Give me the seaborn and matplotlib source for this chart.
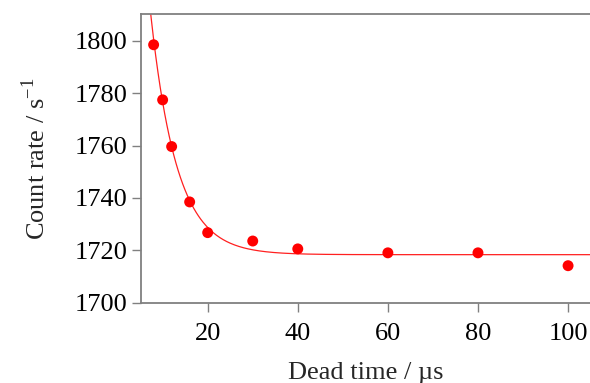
import numpy as np
import pandas as pd
import matplotlib
matplotlib.use("Agg")
import matplotlib.pyplot as plt
import seaborn as sns

# Data
dead_time = [8, 10, 12, 16, 20, 30, 40, 60, 80, 100]
count_rate = [1798.4, 1777.4, 1759.6, 1738.5, 1726.8, 1723.6, 1720.6, 1719.1, 1719.1, 1714.2]

# Exponential fit parameters: y = A + B*exp(-x/tau)
fit_A = 1718.4
fit_B = 326.0
fit_tau = 5.8

x_ticks = [20, 40, 60, 80, 100]
y_ticks = [1700, 1720, 1740, 1760, 1780, 1800]

sns.set_style("white")
plt.rcParams['font.family'] = ['Liberation Serif', 'DejaVu Serif']
plt.rcParams['mathtext.fontset'] = 'custom'
plt.rcParams['mathtext.rm'] = 'Liberation Serif'

fig = plt.figure(figsize=(5.9, 3.83), dpi=100)
ax = fig.add_axes([0.239, 0.209, 0.762, 0.755])

xf = np.linspace(5.2, 105, 400)
fit_df = pd.DataFrame({"x": xf, "y": fit_A + fit_B * np.exp(-xf / fit_tau)})
pts_df = pd.DataFrame({"x": dead_time, "y": count_rate})

sns.lineplot(data=fit_df, x="x", y="y", ax=ax, color="#ff2020", linewidth=0.9, zorder=2)
sns.scatterplot(data=pts_df, x="x", y="y", ax=ax, color="#ff0000", s=62,
                edgecolor="none", zorder=3)

ax.set_xlim(5.2, 105)
ax.set_ylim(1700, 1810.2)
ax.set_xticks(x_ticks)
ax.set_yticks(y_ticks)
ax.tick_params(axis="both", which="major", direction="out", length=6.5, width=1,
               color="#808080", labelsize=19, labelcolor="black", left=True, bottom=True)
ax.tick_params(axis="y", pad=3)
ax.tick_params(axis="x", pad=8)

for side in ["left", "bottom", "top"]:
    ax.spines[side].set_color("#808080")
    ax.spines[side].set_linewidth(1.3)
ax.spines["right"].set_visible(False)

ax.set_xlabel("Dead time / µs", fontsize=19, labelpad=12)
ax.set_ylabel(r"Count rate / s$^{\mathregular{-1}}$", fontsize=19, labelpad=18)

fig.savefig("out.png", dpi=100)
